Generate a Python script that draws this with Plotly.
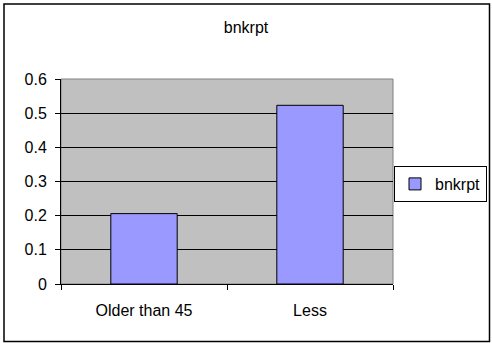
import plotly.graph_objects as go

categories = ["Older than 45", "Less"]
values = [0.206, 0.523]
series_name = "bnkrpt"
y_ticks = [0, 0.1, 0.2, 0.3, 0.4, 0.5, 0.6]
y_tick_labels = ["0", "0.1", "0.2", "0.3", "0.4", "0.5", "0.6"]

W, H = 492, 343
L, R, T, B = 61, 393, 79, 284  # plot area px

def px_x(p):
    return (p - L) / (R - L)

def px_y(p):
    return (B - p) / (B - T)

FONT = "Liberation Sans, Arial, sans-serif"

fig = go.Figure()
fig.add_trace(go.Bar(
    x=categories, y=values, name=series_name,
    marker=dict(color="#9999FF", line=dict(color="black", width=1)),
    showlegend=True,
))

fig.update_layout(
    width=W, height=H,
    margin=dict(l=L, r=W - R, t=T, b=H - B, pad=0, autoexpand=False),
    paper_bgcolor="white",
    plot_bgcolor="#C0C0C0",
    bargap=0.6,
    font=dict(family=FONT, size=16, color="black"),
    title=dict(text="bnkrpt", x=0.5, xanchor="center", y=1 - 27 / H, yanchor="middle",
               font=dict(family=FONT, size=16, color="black")),
    showlegend=True,
    legend=dict(x=px_x(487), y=px_y(166), xanchor="right", yanchor="top",
                bordercolor="black", borderwidth=1, bgcolor="white",
                font=dict(family=FONT, size=16, color="black"),
                itemwidth=30, tracegroupgap=0),
    xaxis=dict(type="category", showgrid=False, showline=True, linecolor="black", linewidth=1,
               ticks="outside", ticklen=5, tickcolor="black", tickson="boundaries",
               tickfont=dict(family=FONT, size=16), range=[-0.5, 1.5], zeroline=False,
               ticklabelstandoff=12, automargin=False),
    yaxis=dict(range=[0, 0.6], tickvals=y_ticks, ticktext=y_tick_labels,
               showgrid=True, gridcolor="black", gridwidth=1,
               showline=True, linecolor="black", linewidth=1,
               ticks="outside", ticklen=5, tickcolor="black",
               tickfont=dict(family=FONT, size=16), zeroline=False,
               ticklabelstandoff=5, automargin=False),
    shapes=[
        dict(type="rect", xref="paper", yref="paper", x0=0, x1=1, y0=0, y1=1,
             line=dict(color="#808080", width=1), layer="below"),
        dict(type="rect", xref="paper", yref="paper",
             x0=px_x(4), x1=px_x(489.5), y0=px_y(341.5), y1=px_y(4),
             line=dict(color="black", width=1.5), fillcolor="rgba(0,0,0,0)", layer="above"),
    ],
)

fig.write_html("out.html", config={"displayModeBar": False},
               post_script="document.body.style.margin='0';document.body.style.overflow='hidden';")
